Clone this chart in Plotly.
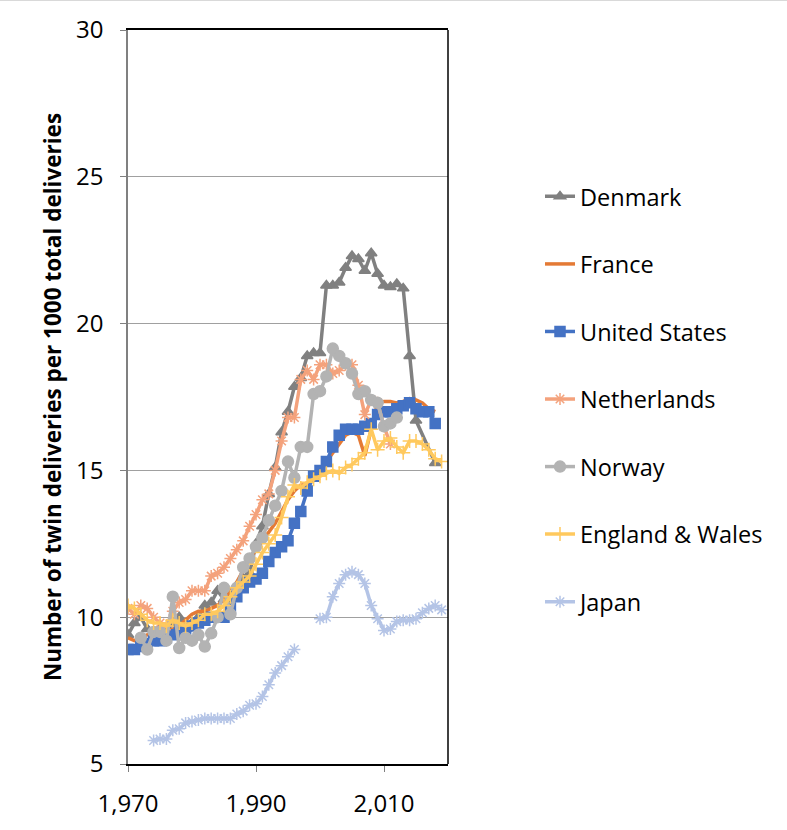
import plotly.graph_objects as go

years = list(range(1970, 2020))

denmark = [9.4, 9.8, 10.0, 9.6, 9.5, 9.6, 9.5, 9.8, 10.0, 9.6,
           9.8, 10.0, 10.4, 10.5, 10.9, 10.6, 10.7, 11.0, 11.3, 11.5,
           12.5, 13.1, 14.2, 15.1, 16.3, 17.0, 17.85, 18.15, 18.9, 19.0,
           19.0, 21.3, 21.3, 21.4, 21.9, 22.3, 22.2, 21.8, 22.4, 21.7,
           21.3, 21.25, 21.35, 21.2, 18.9, 16.7, None, None, 15.25, None]

france = [9.3, 9.2, 9.3, 9.4, 9.5, 9.4, 9.5, 9.6, 9.7, 9.9,
          10.1, 10.2, 10.2, 10.3, 10.4, 10.6, 10.9, 11.2, 11.6, 12.0,
          12.3, 12.6, 12.9, 13.2, 13.6, 14.0, 14.3, 14.5, 14.5, 14.7,
          15.0, 15.3, 15.6, 15.9, 16.2, 16.3, 16.2, 15.5, 16.4, 17.3,
          17.35, 17.35, 17.3, 17.35, 17.45, 17.4, 17.3, 17.1, 17.0, None]

united_states = [8.9, 8.9, 9.0, 9.1, 9.2, 9.2, 9.3, 9.4, 9.5, 9.6,
                 9.7, 9.8, 9.9, 10.0, 10.0, 10.0, 10.3, 10.7, 11.0, 11.2,
                 11.3, 11.5, 11.9, 12.2, 12.4, 12.6, 13.2, 13.6, 14.3, 14.8,
                 15.0, 15.3, 15.8, 16.2, 16.4, 16.4, 16.4, 16.5, 16.6, 16.9,
                 17.0, 17.0, 17.1, 17.2, 17.3, 17.1, 17.0, 17.0, 16.6, None]

netherlands = [10.3, 10.1, 10.4, 10.3, 10.0, 9.8, 9.7, 10.2, 10.5, 10.6,
               10.9, 10.9, 10.9, 11.4, 11.5, 11.7, 12.0, 12.3, 12.6, 13.1,
               13.5, 14.0, 14.2, 15.0, 16.0, 16.8, 16.8, 18.1, 18.4, 18.1,
               18.6, 18.6, 18.3, 18.4, 18.6, 18.6, 17.9, 16.9, 17.4, 17.3,
               16.5, 15.9, None, None, None, None, None, None, None, None]

norway = [None, None, 9.3, 8.9, 9.5, 9.5, 9.2, 10.7, 8.95, 9.3,
          9.2, 9.4, 9.0, 9.45, 10.0, 11.0, 10.1, 11.0, 11.7, 12.0,
          12.4, 12.7, 13.3, 13.8, 14.3, 15.3, 14.75, 15.8, 15.8, 17.6,
          17.7, 18.2, 19.15, 18.9, 18.65, 18.3, 17.6, 17.7, 17.4, 17.3,
          16.5, 16.6, 16.8, None, None, None, None, None, None, None]

england_wales = [10.4, 10.3, 10.1, 9.9, 9.8, 9.8, 9.7, 9.9, 9.8, 9.7,
                 9.8, 9.9, 10.1, 10.1, 10.2, 10.4, 10.7, 11.0, 11.2, 11.4,
                 11.8, 12.2, 12.5, 12.8, 13.4, 14.1, 14.5, 14.4, 14.6, 14.7,
                 14.8, 14.9, 15.0, 14.9, 15.1, 15.2, 15.4, 15.6, 16.4, 15.7,
                 16.0, 16.1, 15.8, 15.6, 16.0, 16.0, 15.9, 15.7, 15.4, 15.3]

japan = [None, None, None, None, 5.8, 5.85, 5.85, 6.15, 6.2, 6.4,
         6.45, 6.5, 6.55, 6.55, 6.55, 6.55, 6.55, 6.7, 6.8, 7.0,
         7.05, 7.3, 7.7, 8.1, 8.35, 8.65, 8.9, None, None, None,
         9.95, 10.0, 10.7, 11.15, 11.45, 11.55, 11.45, 11.15, 10.4, 9.95,
         9.55, 9.6, 9.85, 9.9, 9.9, 9.95, 10.15, 10.3, 10.4, 10.25]

series = [
    ("Denmark", denmark, "#808080", "triangle-up", 10, True),
    ("France", france, "#E47A35", None, 0, True),
    ("United States", united_states, "#4472C4", "square", 10, True),
    ("Netherlands", netherlands, "#F4A27C", "asterisk-open", 10, True),
    ("Norway", norway, "#B3B3B3", "circle", 11, True),
    ("England & Wales", england_wales, "#FFC95E", "cross-thin-open", 10, True),
    ("Japan", japan, "#B4C4E6", "asterisk-open", 10, False),
]

fig = go.Figure()
for name, vals, color, sym, size, connect in series:
    kw = dict(x=years, y=vals, name=name, legendgroup=name,
              line=dict(color=color, width=3.5), connectgaps=connect)
    if sym is None:
        kw["mode"] = "lines"
    else:
        kw["mode"] = "lines+markers"
        kw["marker"] = dict(symbol=sym, size=size, color=color,
                            line=dict(color=color, width=1.5))
    fig.add_trace(go.Scatter(**kw))

font = "Open Sans, Noto Sans, sans-serif"
fig.update_layout(
    width=787, height=830,
    margin=dict(l=128, r=339, t=30, b=66, autoexpand=False),
    plot_bgcolor="white", paper_bgcolor="white",
    font=dict(family=font, size=24, color="black"),
    legend=dict(x=1.2875, xanchor="left", y=0.803, yanchor="top",
                tracegroupgap=34, font=dict(size=23.5),
                bgcolor="rgba(0,0,0,0)"),
    xaxis=dict(range=[1970, 2020], tickvals=[1970, 1990, 2010],
               tickformat=",", showgrid=False, zeroline=False,
               showline=True, linecolor="black", linewidth=1.5, mirror=True,
               ticks="outside", ticklen=6, tickcolor="#808080",
               ticklabelstandoff=11, tickfont=dict(size=24)),
    yaxis=dict(range=[5, 30], dtick=5, showgrid=True, gridcolor="#A0A0A0",
               gridwidth=1, zeroline=False, showline=True,
               linecolor="#808080", linewidth=1.5,
               ticks="outside", ticklen=6, tickcolor="#808080",
               ticklabelstandoff=12, tickfont=dict(size=24),
               title=dict(text="<b>Number of twin deliveries per 1000 total deliveries</b>",
                          font=dict(size=22.5), standoff=8)),
    shapes=[
        dict(type="line", xref="paper", yref="paper", x0=1, x1=1, y0=0, y1=1,
             line=dict(color="black", width=1.5)),
        dict(type="line", xref="paper", yref="paper",
             x0=-128 / 320, x1=1 + 339 / 320, y0=1 + 29.5 / 734, y1=1 + 29.5 / 734,
             line=dict(color="#D9D9D9", width=1)),
    ],
)

fig.write_html("out.html", config={"displayModeBar": False},
               post_script="document.body.style.margin='0';")
